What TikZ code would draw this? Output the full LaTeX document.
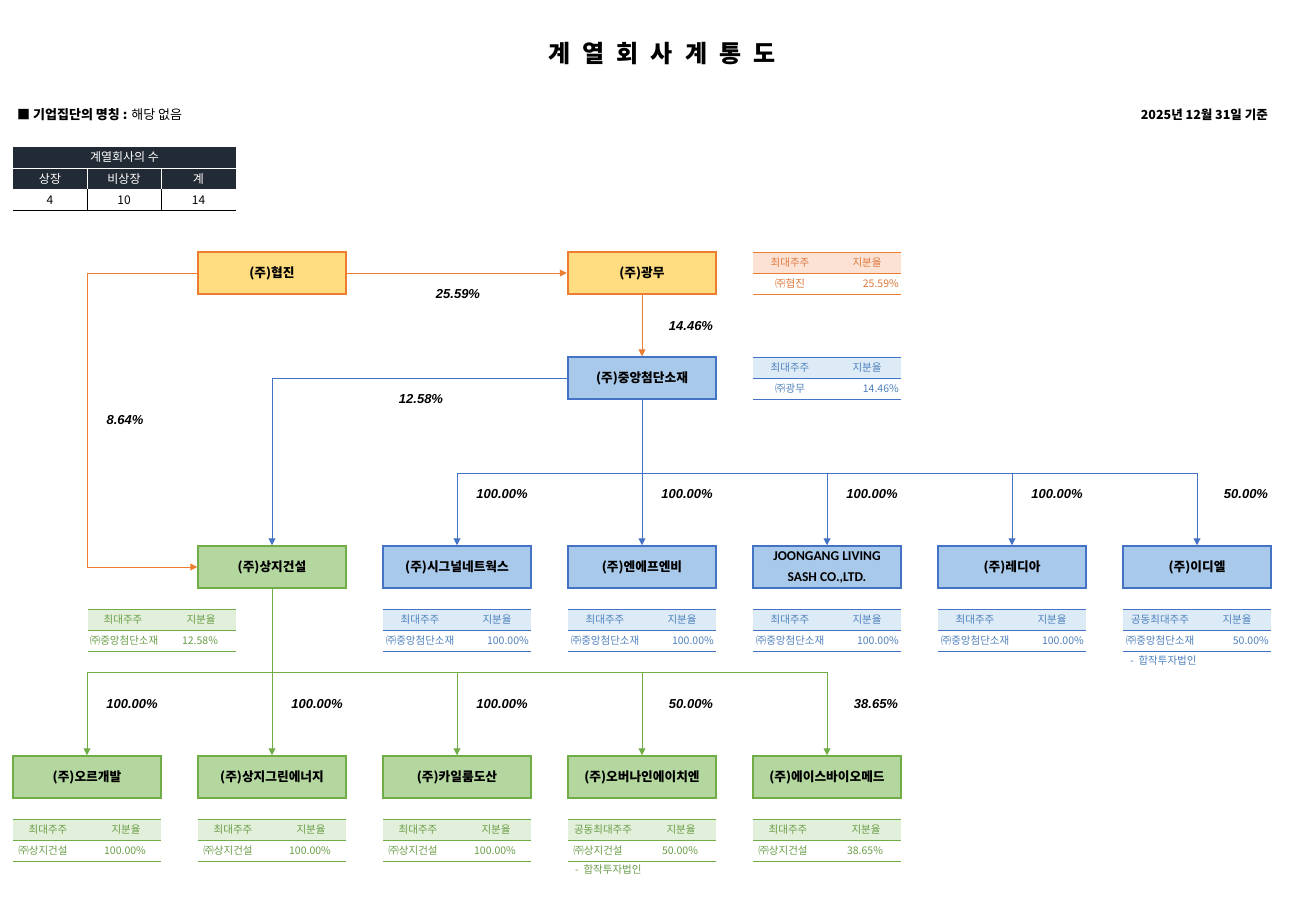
\documentclass[tikz,border=0pt]{standalone}
\usepackage{fontspec}
\setmainfont{Noto Sans CJK KR}
\newfontfamily\pctfont{Liberation Sans}
\newfontfamily\latfont{Carlito}
\usetikzlibrary{arrows.meta}
\definecolor{orln}{HTML}{ED7D31}
\definecolor{orhd}{HTML}{FBE2D5}
\definecolor{ortx}{HTML}{E0783A}
\definecolor{orfill}{HTML}{FFDC80}
\definecolor{blln}{HTML}{4472C4}
\definecolor{blhd}{HTML}{DDEBF7}
\definecolor{bltx}{HTML}{4F81BD}
\definecolor{blfill}{HTML}{A9C9EB}
\definecolor{grln}{HTML}{70AD47}
\definecolor{grhd}{HTML}{E2EFDA}
\definecolor{grtx}{HTML}{6A9E48}
\definecolor{grfill}{HTML}{B4D79F}
\definecolor{dk}{HTML}{222A35}
\newcommand\shframe[3]{%
  \fill[#3hd] (#1,#2) rectangle ++(148,21);
  \draw[#3ln,line width=1pt] (#1,#2) -- ++(148,0) (#1,#2+21) -- ++(148,0) (#1,#2+42) -- ++(148,0);
}
\newcommand\shtextR[6]{%
  \node[tt,text=#3tx] (h1-#1-#2) at (#1+37,#2+10.5) {#4};
  \node[tt,text=#3tx] (h2-#1-#2) at (#1+114,#2+10.5) {지분율};
  \node[tt,text=#3tx] (d1-#1-#2) at (#1+37,#2+31.5) {#5};
  \node[tt,text=#3tx,anchor=east] (d2-#1-#2) at (#1+146,#2+31.5) {#6};
}
\newcommand\shtextG[7]{%
  \node[tt,text=#3tx] (h1-#1-#2) at (#1+35,#2+10.5) {#4};
  \node[tt,text=#3tx] (h2-#1-#2) at (#1+113,#2+10.5) {지분율};
  \node[tt,text=#3tx] (d1-#1-#2) at (#1+#7,#2+31.5) {#5};
  \node[tt,text=#3tx] (d2-#1-#2) at (#1+112,#2+31.5) {#6};
}
\begin{document}
\begin{tikzpicture}[x=1pt,y=-1pt,
  tt/.style={font=\fontsize{10.5}{12}\selectfont, inner sep=0},
  boxbase/.style={draw, line width=1.5pt, minimum width=148pt, minimum height=42pt, inner sep=0, font=\fontsize{12.7}{14}\selectfont\bfseries},
  obox/.style={boxbase, draw=orln, fill=orfill},
  bbox/.style={boxbase, draw=blln, fill=blfill},
  gbox/.style={boxbase, draw=grln, fill=grfill},
  tip/.style={-{Triangle[length=7pt,width=7pt]}},
  oline/.style={draw=orln, line width=1pt},
  bline/.style={draw=blln, line width=1pt},
  gline/.style={draw=grln, line width=1pt},
  pct/.style={font=\pctfont\bfseries\itshape\fontsize{13}{15}\selectfont, inner sep=0},
  wt/.style={font=\fontsize{12}{14}\selectfont, inner sep=0}
]
\useasboundingbox[fill=white] (0,0) rectangle (1309,904);

% title and header
\node[font=\fontsize{24}{27}\selectfont\bfseries, inner sep=0] (title) at (662,54)
  {계\hspace{12pt}열\hspace{12pt}회\hspace{12pt}사\hspace{12pt}계\hspace{12pt}통\hspace{12pt}도};
\node[anchor=west, inner sep=0, font=\fontsize{13}{15}\selectfont] (grp) at (17,115)
  {\textbf{■ 기업집단의 명칭 :} 해당 없음};
\node[anchor=east, inner sep=0, font=\fontsize{12.5}{15}\selectfont\bfseries] (date) at (1268,115)
  {2025년 12월 31일 기준};

% count table
\fill[dk] (13,147) rectangle (236,189);
\draw[white, line width=1pt] (13,168.5) -- (236,168.5) (87,168.5) -- (87,189) (161,168.5) -- (161,189);
\draw[black, line width=0.8pt] (87,189) -- (87,210) (161,189) -- (161,210);
\draw[black, line width=1pt] (13,210.5) -- (236,210.5);
\node[wt, text=white] (cnt) at (124.5,157.5) {계열회사의 수};
\node[wt, text=white] (c1) at (50,179) {상장};
\node[wt, text=white] (c2) at (124,179) {비상장};
\node[wt, text=white] (c3) at (198.5,179) {계};
\node[wt] (v1) at (50,200) {4};
\node[wt] (v2) at (124,200) {10};
\node[wt] (v3) at (198.5,200) {14};

% main boxes
\node[obox] (hj) at (272,273) {(주)협진};
\node[obox, line width=2.5pt] (gm) at (642,273) {(주)광무};
\node[bbox] (jas) at (642,378) {(주)중앙첨단소재};
\node[gbox] (sj) at (272,567) {(주)상지건설};

\node[bbox] (b1) at (457,567) {(주)시그널네트웍스};
\node[bbox] (b2) at (642,567) {(주)엔에프엔비};
\node[bbox, align=center, font=\latfont\bfseries\fontsize{13.5}{21}\selectfont] (b3) at (827,567) {JOONGANG LIVING\\SASH CO.,LTD.};
\node[bbox] (b4) at (1012,567) {(주)레디아};
\node[bbox] (b5) at (1197,567) {(주)이디엘};

\node[gbox] (g1) at (87,777) {(주)오르개발};
\node[gbox] (g2) at (272,777) {(주)상지그린에너지};
\node[gbox] (g3) at (457,777) {(주)카일룸도산};
\node[gbox] (g4) at (642,777) {(주)오버나인에이치엔};
\node[gbox] (g5) at (827,777) {(주)에이스바이오메드};

% orange connectors
\draw[oline, tip] (hj.east) -- (gm.west);
\draw[oline, tip] (hj.west) -- ++(-110,0) |- (sj.west);
\draw[oline, tip] (gm.south) -- (jas.north);

% blue connectors
\draw[bline, tip] (jas.west) -| (sj.north);
\coordinate (bus1) at (642,473);
\draw[bline] (jas.south) -- (bus1);
\draw[bline] (b1.north |- bus1) -- (b5.north |- bus1);
\foreach \n in {b1,b2,b3,b4,b5} \draw[bline, tip] (\n.north |- bus1) -- (\n.north);

% green connectors
\coordinate (bus2) at (272,672);
\draw[gline] (sj.south) -- (bus2);
\draw[gline] (g1.north |- bus2) -- (g5.north |- bus2);
\foreach \n in {g1,g2,g3,g4,g5} \draw[gline, tip] (\n.north |- bus2) -- (\n.north);

% percentages
\node[pct] (p1) at (458,294) {25.59\%};
\node[pct] (p2) at (691,326) {14.46\%};
\node[pct] (p3) at (125,420) {8.64\%};
\node[pct] (p4) at (421,399) {12.58\%};
\node[pct] (p5) at (502,494) {100.00\%};
\node[pct] (p6) at (687,494) {100.00\%};
\node[pct] (p7) at (872,494) {100.00\%};
\node[pct] (p8) at (1057,494) {100.00\%};
\node[pct] (p9) at (1246,494) {50.00\%};
\node[pct] (p10) at (132,704) {100.00\%};
\node[pct] (p11) at (317,704) {100.00\%};
\node[pct] (p12) at (502,704) {100.00\%};
\node[pct] (p13) at (691,704) {50.00\%};
\node[pct] (p14) at (876,704) {38.65\%};

% shareholder tables
\shframe{753}{252}{or} \shtextR{753}{252}{or}{최대주주}{㈜협진}{25.59\%}
\shframe{753}{357}{bl} \shtextR{753}{357}{bl}{최대주주}{㈜광무}{14.46\%}
\shframe{88}{609}{gr} \shtextG{88}{609}{gr}{최대주주}{㈜중앙첨단소재}{12.58\%}{36}

\shframe{383}{609}{bl} \shtextR{383}{609}{bl}{최대주주}{㈜중앙첨단소재}{100.00\%}
\shframe{568}{609}{bl} \shtextR{568}{609}{bl}{최대주주}{㈜중앙첨단소재}{100.00\%}
\shframe{753}{609}{bl} \shtextR{753}{609}{bl}{최대주주}{㈜중앙첨단소재}{100.00\%}
\shframe{938}{609}{bl} \shtextR{938}{609}{bl}{최대주주}{㈜중앙첨단소재}{100.00\%}
\shframe{1123}{609}{bl} \shtextR{1123}{609}{bl}{공동최대주주}{㈜중앙첨단소재}{50.00\%}
\node[tt, text=bltx, anchor=west] (jv1) at (1130,661) {-\ \ 합작투자법인};

\shframe{13}{819}{gr} \shtextG{13}{819}{gr}{최대주주}{㈜상지건설}{100.00\%}{30}
\shframe{198}{819}{gr} \shtextG{198}{819}{gr}{최대주주}{㈜상지건설}{100.00\%}{30}
\shframe{383}{819}{gr} \shtextG{383}{819}{gr}{최대주주}{㈜상지건설}{100.00\%}{30}
\shframe{568}{819}{gr} \shtextG{568}{819}{gr}{공동최대주주}{㈜상지건설}{50.00\%}{30}
\shframe{753}{819}{gr} \shtextG{753}{819}{gr}{최대주주}{㈜상지건설}{38.65\%}{30}
\node[tt, text=grtx, anchor=west] (jv2) at (575,870) {-\ \ 합작투자법인};
\end{tikzpicture}
\end{document}
